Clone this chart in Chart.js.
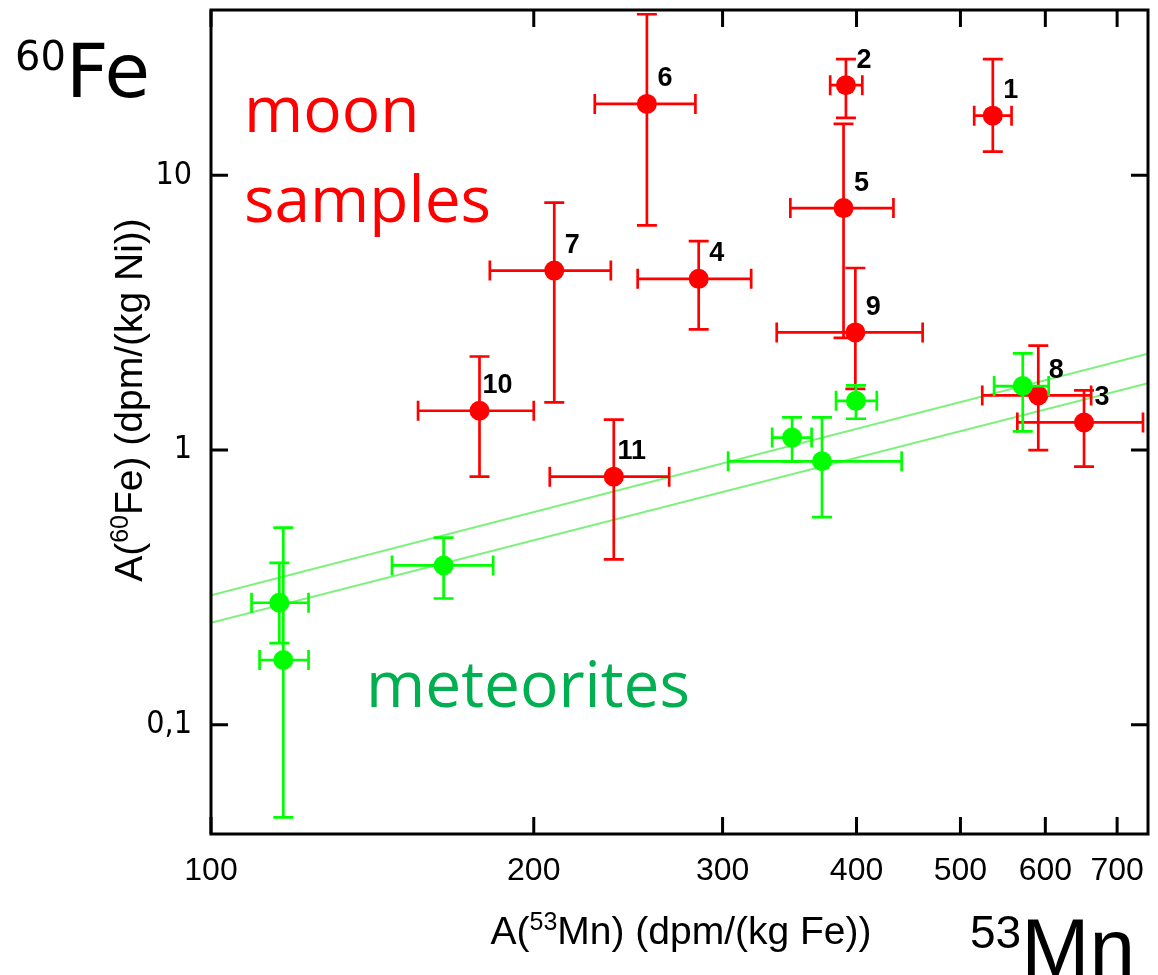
<!DOCTYPE html>
<html>
<head>
<meta charset="utf-8">
<script src="https://cdn.jsdelivr.net/npm/chart.js@4.4.1/dist/chart.umd.min.js"></script>
<style>
  html, body { margin: 0; padding: 0; background: #ffffff; }
  #wrap { width: 1158px; height: 975px; }
</style>
</head>
<body>
<div id="wrap"><canvas id="c" width="1158" height="975"></canvas></div>
<script>
// Moon samples: A(53Mn) in dpm/(kg Fe), A(60Fe) in dpm/(kg Ni), with error ranges
const moonIds   = ['1', '2', '3', '4', '5', '6', '7', '8', '9', '10', '11'];
const moonMn    = [536, 391, 652, 285, 389, 255, 209, 591, 399, 178, 237.5];
const moonMnLo  = [515, 378, 565, 250, 347, 228, 182, 524, 337, 156, 207];
const moonMnHi  = [558, 405, 740, 319, 433, 283, 236, 662, 461, 200, 267.5];
const moonFe    = [16.5, 21.3, 1.26, 4.2, 7.6, 18.2, 4.5, 1.58, 2.68, 1.39, 0.80];
const moonFeLo  = [12.2, 16.2, 0.87, 2.75, 2.56, 6.57, 1.49, 1.0, 1.67, 0.80, 0.40];
const moonFeHi  = [26.5, 26.5, 1.65, 5.76, 15.4, 38.6, 7.96, 2.4, 4.6, 2.19, 1.29];

// Meteorites
const metMn     = [571.6, 399.5, 348.3, 371.4, 164.8, 115.8, 116.8];
const metMnLo   = [537.5, 382.8, 333.7, 303.6, 147.5, 109.1, 111];
const metMnHi   = [604.3, 417.8, 363.2, 440.7, 183.3, 123.3, 123.3];
const metFe     = [1.71, 1.51, 1.11, 0.91, 0.38, 0.278, 0.172];
const metFeLo   = [1.17, 1.30, 0.91, 0.57, 0.288, 0.198, 0.046];
const metFeHi   = [2.25, 1.72, 1.315, 1.315, 0.48, 0.388, 0.522];

// Proportional bands through the meteorite data
const bandMn    = [100, 748];
const bandUpper = [0.296, 2.24];
const bandLower = [0.235, 1.75];

// Axis ticks
const xTicks = [100, 200, 300, 400, 500, 600, 700];
const yTicks = [0.1, 1, 10];

const RED = '#ff0000';
const GREEN = '#00ff00';
const BAND = 'rgba(110, 240, 110, 0.9)';
const ARIAL = '"Liberation Sans", Arial, sans-serif';
const DEJAVU = '"DejaVu Sans", Verdana, sans-serif';

const toPoints = (xs, ys) => xs.map((x, i) => ({ x: x, y: ys[i] }));

// Error bars drawn just before each dataset's markers
const errorBarPlugin = {
  id: 'errorBars',
  beforeDatasetDraw(chart, args) {
    const ds = chart.data.datasets[args.index];
    if (!ds.errors) return;
    const { ctx, scales: { x, y } } = chart;
    const e = ds.errors;
    const cap = 10;
    ctx.save();
    ctx.strokeStyle = ds.borderColor;
    ctx.lineWidth = 2.7;
    ctx.lineCap = 'butt';
    ds.data.forEach((p, i) => {
      const px = x.getPixelForValue(p.x);
      const py = y.getPixelForValue(p.y);
      const x0 = x.getPixelForValue(e.xLo[i]);
      const x1 = x.getPixelForValue(e.xHi[i]);
      const y0 = y.getPixelForValue(e.yLo[i]);
      const y1 = y.getPixelForValue(e.yHi[i]);
      ctx.beginPath();
      ctx.moveTo(x0, py); ctx.lineTo(x1, py);
      ctx.moveTo(x0, py - cap); ctx.lineTo(x0, py + cap);
      ctx.moveTo(x1, py - cap); ctx.lineTo(x1, py + cap);
      ctx.moveTo(px, y0); ctx.lineTo(px, y1);
      ctx.moveTo(px - cap, y0); ctx.lineTo(px + cap, y0);
      ctx.moveTo(px - cap, y1); ctx.lineTo(px + cap, y1);
      ctx.stroke();
    });
    ctx.restore();
  }
};

// Frame with inward ticks on all four sides, plus sample numbers
const framePlugin = {
  id: 'frame',
  afterDatasetsDraw(chart) {
    const { ctx, chartArea: a, scales: { x, y } } = chart;
    ctx.save();
    // sample numbers
    const moon = chart.data.datasets[1];
    ctx.fillStyle = '#000000';
    ctx.font = 'bold 27px ' + ARIAL;
    ctx.textAlign = 'center';
    ctx.textBaseline = 'middle';
    moon.data.forEach((p, i) => {
      const px = x.getPixelForValue(p.x);
      const py = y.getPixelForValue(p.y);
      ctx.fillText(moonIds[i], px + 18, py - 25);
    });
    // frame
    ctx.strokeStyle = '#000000';
    ctx.lineWidth = 3;
    ctx.strokeRect(a.left, a.top, a.right - a.left, a.bottom - a.top);
    const tl = 17;
    ctx.beginPath();
    xTicks.forEach(v => {
      const px = x.getPixelForValue(v);
      ctx.moveTo(px, a.bottom); ctx.lineTo(px, a.bottom - tl);
      ctx.moveTo(px, a.top); ctx.lineTo(px, a.top + tl);
    });
    yTicks.forEach(v => {
      const py = y.getPixelForValue(v);
      ctx.moveTo(a.left, py); ctx.lineTo(a.left + tl, py);
      ctx.moveTo(a.right, py); ctx.lineTo(a.right - tl, py);
    });
    ctx.stroke();
    ctx.restore();
  }
};

// Draws a run of text pieces, some raised as superscripts
function drawRuns(ctx, runs, x, y, align) {
  let total = 0;
  runs.forEach(r => { ctx.font = r.font; r.w = ctx.measureText(r.t).width; total += r.w; });
  let cx = align === 'center' ? x - total / 2 : x;
  runs.forEach(r => {
    ctx.font = r.font;
    ctx.fillText(r.t, cx, y - (r.rise || 0));
    cx += r.w;
  });
}

const textPlugin = {
  id: 'annotations',
  afterDraw(chart) {
    const ctx = chart.ctx;
    ctx.save();
    ctx.textAlign = 'left';
    ctx.textBaseline = 'alphabetic';
    ctx.fillStyle = '#000000';

    // 60Fe corner label
    drawRuns(ctx, [
      { t: '60', font: '40px ' + DEJAVU, rise: 27 },
      { t: 'Fe', font: '74px ' + DEJAVU }
    ], 15, 97, 'left');

    // 53Mn corner label
    drawRuns(ctx, [
      { t: '53', font: '46px ' + ARIAL, rise: 28 },
      { t: 'Mn', font: '82px ' + ARIAL }
    ], 970, 976, 'left');

    // x axis title
    drawRuns(ctx, [
      { t: 'A(', font: '39px ' + ARIAL },
      { t: '53', font: '25px ' + ARIAL, rise: 14 },
      { t: 'Mn) (dpm/(kg Fe))', font: '39px ' + ARIAL }
    ], 681, 944, 'center');

    // y axis title
    ctx.save();
    ctx.translate(142, 400);
    ctx.rotate(-Math.PI / 2);
    drawRuns(ctx, [
      { t: 'A(', font: '39px ' + ARIAL },
      { t: '60', font: '25px ' + ARIAL, rise: 14 },
      { t: 'Fe) (dpm/(kg Ni))', font: '39px ' + ARIAL }
    ], 0, 0, 'center');
    ctx.restore();

    // group names
    const label = '"Open Sans", "Noto Sans", sans-serif';
    ctx.font = '64px ' + label;
    ctx.fillStyle = RED;
    ctx.fillText('moon', 244, 132);
    ctx.fillText('samples', 244, 222);
    ctx.fillStyle = '#00b050';
    ctx.fillText('meteorites', 366, 707);
    ctx.restore();
  }
};

// Pins the plot box: no extra room reserved for half tick labels
const pinBox = s => { s.paddingTop = 0; s.paddingBottom = 0; s.paddingLeft = 0; s.paddingRight = 0; };

const chart = new Chart(document.getElementById('c'), {
  type: 'scatter',
  data: {
    datasets: [
      {
        label: 'meteorites',
        data: toPoints(metMn, metFe),
        backgroundColor: GREEN,
        borderColor: GREEN,
        pointRadius: 10,
        pointHoverRadius: 10,
        borderWidth: 0,
        order: 0,
        errors: { xLo: metMnLo, xHi: metMnHi, yLo: metFeLo, yHi: metFeHi }
      },
      {
        label: 'moon samples',
        data: toPoints(moonMn, moonFe),
        backgroundColor: RED,
        borderColor: RED,
        pointRadius: 10,
        pointHoverRadius: 10,
        borderWidth: 0,
        order: 1,
        errors: { xLo: moonMnLo, xHi: moonMnHi, yLo: moonFeLo, yHi: moonFeHi }
      },
      {
        label: 'upper band',
        data: toPoints(bandMn, bandUpper),
        showLine: true,
        borderColor: BAND,
        backgroundColor: BAND,
        borderWidth: 2,
        pointRadius: 0,
        order: 2
      },
      {
        label: 'lower band',
        data: toPoints(bandMn, bandLower),
        showLine: true,
        borderColor: BAND,
        backgroundColor: BAND,
        borderWidth: 2,
        pointRadius: 0,
        order: 3
      }
    ]
  },
  options: {
    responsive: false,
    animation: false,
    devicePixelRatio: 1,
    layout: { padding: { top: 9, right: 4, left: 0, bottom: 0 } },
    plugins: { legend: { display: false }, tooltip: { enabled: false } },
    scales: {
      x: {
        type: 'logarithmic',
        min: 100,
        max: 748,
        grid: { display: false, drawTicks: false },
        border: { display: false },
        afterBuildTicks: s => { s.ticks = xTicks.map(v => ({ value: v })); },
        afterFit: s => { s.height = 141; pinBox(s); },
        ticks: {
          autoSkip: false,
          maxRotation: 0,
          minRotation: 0,
          padding: 18,
          color: '#000000',
          font: { family: ARIAL, size: 32 },
          callback: v => String(v)
        }
      },
      y: {
        type: 'logarithmic',
        min: 0.04,
        max: 40,
        grid: { display: false, drawTicks: false },
        border: { display: false },
        afterBuildTicks: s => { s.ticks = yTicks.map(v => ({ value: v })); },
        afterFit: s => { s.width = 211; pinBox(s); },
        ticks: {
          autoSkip: false,
          padding: 19,
          color: '#000000',
          font: { family: '"DejaVu Sans Condensed", "DejaVu Sans", Verdana, sans-serif', size: 32 },
          callback: v => (v === 0.1 ? '0,1' : String(v))
        }
      }
    }
  },
  plugins: [errorBarPlugin, framePlugin, textPlugin]
});
</script>
</body>
</html>
